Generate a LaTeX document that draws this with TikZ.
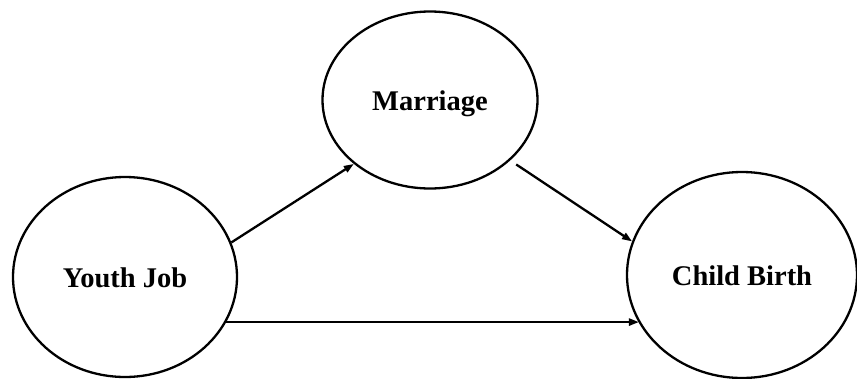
\documentclass[tikz,border=0pt]{standalone}
\usepackage{fontspec}
\setmainfont{Liberation Serif}
\usetikzlibrary{shapes.geometric,arrows.meta}

\tikzset{every picture/.style={line width=2.3pt}}
\tikzset{
  varbox/.style={draw, ellipse, inner sep=0pt, text height=27pt, text depth=6pt,
    font=\bfseries\fontsize{28.5}{32}\selectfont},
  pathline/.style={-{Triangle[length=10pt,width=7pt]}, line width=2.3pt}
}

\begin{document}
\begin{tikzpicture}[x=1pt,y=1pt,yscale=-1,xscale=1]
\useasboundingbox (0,0) rectangle (857,378);

%Shape: Ellipse [Marriage]
\node [varbox, minimum width=215, minimum height=177] (mar) at (430,100) {Marriage};
%Shape: Ellipse [Youth Job]
\node [varbox, minimum width=224, minimum height=200] (yj) at (125,277) {Youth Job};
%Shape: Ellipse [Child Birth]
\node [varbox, minimum width=230, minimum height=206] (cb) at (742,275) {Child Birth};

%Straight Lines
\draw [pathline] (yj.18) -- (mar.220);
%Straight Lines
\draw [pathline] ([shift={(6,4)}]mar.-37) -- (cb.163);
%Straight Lines
\draw [pathline] (yj.-24) -- (yj.-24 -| cb.205);

\end{tikzpicture}
\end{document}
